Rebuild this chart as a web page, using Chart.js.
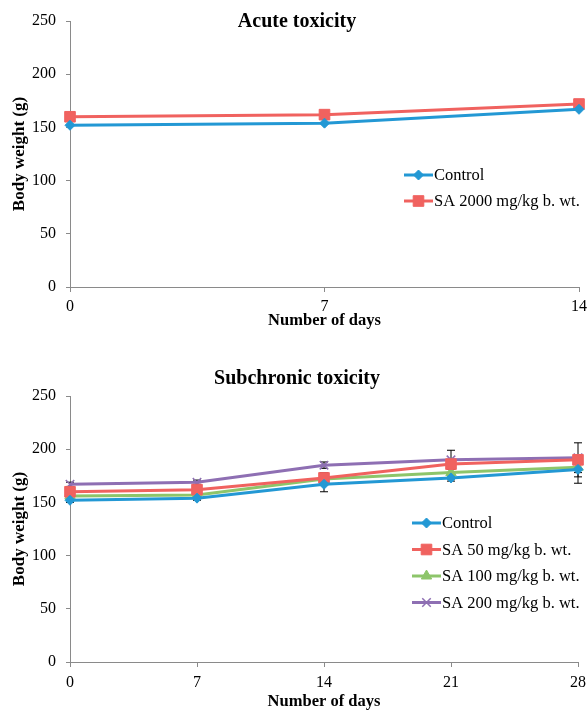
<!DOCTYPE html>
<html>
<head>
<meta charset="utf-8">
<script src="https://cdn.jsdelivr.net/npm/chart.js@4.4.1/dist/chart.umd.min.js"></script>
<style>
  html, body { margin: 0; padding: 0; background: #fff; }
  #wrap { position: relative; width: 587px; height: 713px; overflow: hidden; }
  #c1 { position: absolute; left: 0; top: 0; }
  #c2 { position: absolute; left: 0; top: 340px; }
</style>
</head>
<body>
<div id="wrap">
  <canvas id="c1" width="592" height="340"></canvas>
  <canvas id="c2" width="592" height="373"></canvas>
</div>
<script>
// ---- Data ----
const acuteDays = ['0', '7', '14'];
const acuteControl = [152, 154, 167];
const acuteSA2000 = [160, 162, 172];

const subDays = ['0', '7', '14', '21', '28'];
const subControl = [152, 154, 167, 173, 181];
const subSA50 = [160, 162, 173, 186, 190];
const subSA100 = [156, 157, 172, 178, 183];
const subSA200 = [167, 169, 185, 190, 192];

const errControl = [2, 2, 7, 3, 13];
const errSA50 = [2, 2, 5, 3, 4];
const errSA100 = [2, 2, 3, 3, 9];
const errSA200 = [2, 2, 3, 9, 14];

const yTicks = [0, 50, 100, 150, 200, 250];

// ---- Styles ----
const BLUE = '#2398d4';
const RED = '#f0625f';
const GREEN = '#8dc56a';
const PURPLE = '#8e6fb3';
const AXIS = '#8a8a8a';
const SERIF = '"Liberation Serif", "Times New Roman", serif';

function ds(label, data, color, style, radius, err) {
  return {
    label, data, err,
    borderColor: color,
    backgroundColor: color,
    pointBackgroundColor: color,
    pointBorderColor: color,
    pointStyle: style,
    pointRadius: radius,
    pointHoverRadius: radius,
    pointBorderWidth: style === 'crossRot' ? 1.5 : 1,
    borderWidth: 3,
    tension: 0,
    fill: false
  };
}

const errorBarPlugin = {
  id: 'errorBars',
  beforeDatasetsDraw(chart) {
    const ctx = chart.ctx;
    const y = chart.scales.y;
    ctx.save();
    ctx.strokeStyle = '#000';
    ctx.lineWidth = 1;
    chart.data.datasets.forEach((d, i) => {
      if (!d.err) return;
      const meta = chart.getDatasetMeta(i);
      meta.data.forEach((pt, j) => {
        const e = d.err[j];
        if (!e) return;
        const v = d.data[j];
        const yt = y.getPixelForValue(v + e);
        const yb = y.getPixelForValue(v - e);
        const x = pt.x;
        ctx.beginPath();
        ctx.moveTo(x, yt); ctx.lineTo(x, yb);
        ctx.moveTo(x - 4, yt); ctx.lineTo(x + 4, yt);
        ctx.moveTo(x - 4, yb); ctx.lineTo(x + 4, yb);
        ctx.stroke();
      });
    });
    ctx.restore();
  }
};

const titleLegendPlugin = {
  id: 'titleLegend',
  afterDraw(chart, args, opts) {
    const ctx = chart.ctx;
    ctx.save();
    // title
    ctx.fillStyle = '#000';
    ctx.font = 'bold 20px ' + SERIF;
    ctx.textAlign = 'center';
    ctx.textBaseline = 'middle';
    ctx.fillText(opts.title, opts.titleX, opts.titleY);
    // legend
    ctx.font = '16.5px ' + SERIF;
    ctx.textAlign = 'left';
    chart.data.datasets.forEach((d, i) => {
      const yy = opts.legY + i * opts.legGap;
      const x0 = opts.legX, x1 = opts.legX + 29;
      ctx.strokeStyle = d.borderColor;
      ctx.lineWidth = 3;
      ctx.beginPath(); ctx.moveTo(x0, yy); ctx.lineTo(x1, yy); ctx.stroke();
      ctx.fillStyle = d.pointBackgroundColor;
      ctx.strokeStyle = d.pointBorderColor;
      ctx.lineWidth = d.pointBorderWidth;
      Chart.helpers.drawPoint(ctx, {
        pointStyle: d.pointStyle, radius: d.pointRadius, borderWidth: d.pointBorderWidth, rotation: 0
      }, (x0 + x1) / 2, yy);
      ctx.fillStyle = '#000';
      ctx.fillText(d.label, x1 + 1, yy + 1);
    });
    ctx.restore();
  }
};

function makeOptions(padTop, xHeight, xTickPad, xTitlePadBottom, tl) {
  return {
    responsive: false,
    animation: false,
    events: [],
    layout: { padding: { top: padTop, right: 0, left: 0, bottom: 0 } },
    plugins: {
      legend: { display: false },
      tooltip: { enabled: false },
      title: { display: false },
      titleLegend: tl
    },
    scales: {
      x: {
        type: 'category',
        offset: false,
        grid: { drawOnChartArea: false, drawTicks: true, tickLength: 5, color: AXIS },
        border: { color: AXIS, width: 1 },
        ticks: { color: '#000', font: { family: SERIF, size: 16 }, padding: xTickPad, maxRotation: 0, autoSkip: false },
        title: { display: true, text: 'Number of days', color: '#000',
                 font: { family: SERIF, size: 16.5, weight: 'bold' }, padding: { top: 0, bottom: xTitlePadBottom } },
        afterFit: s => { s.height = xHeight; }
      },
      y: {
        min: 0, max: 250,
        afterBuildTicks: s => { s.ticks = yTicks.map(v => ({ value: v })); },
        grid: { drawOnChartArea: false, drawTicks: true, tickLength: 4, color: AXIS },
        border: { color: AXIS, width: 1 },
        ticks: { color: '#000', font: { family: SERIF, size: 16 }, padding: 10 },
        title: { display: true, text: 'Body weight (g)', color: '#000',
                 font: { family: SERIF, size: 17, weight: 'bold' }, padding: { top: 9, bottom: 0 } },
        afterFit: s => { s.width = 70; }
      }
    }
  };
}

new Chart(document.getElementById('c1'), {
  type: 'line',
  data: {
    labels: acuteDays,
    datasets: [
      ds('Control', acuteControl, BLUE, 'rectRot', 5, null),
      ds('SA 2000 mg/kg b. wt.', acuteSA2000, RED, 'rect', 7.5, null)
    ]
  },
  options: makeOptions(21, 53, 5, 9, {
    title: 'Acute toxicity', titleX: 297, titleY: 22,
    legX: 404, legY: 175, legGap: 26
  }),
  plugins: [errorBarPlugin, titleLegendPlugin]
});

new Chart(document.getElementById('c2'), {
  type: 'line',
  data: {
    labels: subDays,
    datasets: [
      ds('Control', subControl, BLUE, 'rectRot', 5, errControl),
      ds('SA 50 mg/kg b. wt.', subSA50, RED, 'rect', 7.5, errSA50),
      ds('SA 100 mg/kg b. wt.', subSA100, GREEN, 'triangle', 6, errSA100),
      ds('SA 200 mg/kg b. wt.', subSA200, PURPLE, 'crossRot', 6, errSA200)
    ]
  },
  options: makeOptions(56, 51, 6, 1, {
    title: 'Subchronic toxicity', titleX: 297, titleY: 39,
    legX: 412, legY: 183, legGap: 26.5
  }),
  plugins: [errorBarPlugin, titleLegendPlugin]
});
</script>
</body>
</html>
